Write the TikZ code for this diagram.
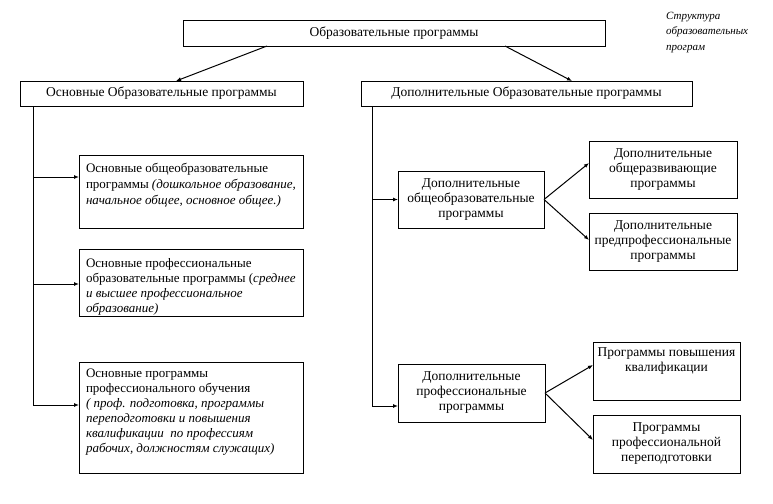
\documentclass[tikz,border=0pt]{standalone}
\usepackage{fontspec}
\setmainfont{Liberation Serif}
\usetikzlibrary{arrows.meta}

\begin{document}
\begin{tikzpicture}[x=1pt,y=-1pt,
  box/.style={draw=drawColor,line width=0.9pt,anchor=north west,inner sep=0pt,outer sep=0pt,
    align=center,font=\fontsize{13.5}{15}\selectfont},
  lbox/.style={box,align=left,inner xsep=7pt,font=\fontsize{13}{15}\selectfont},
  line/.style={draw=drawColor,line width=1pt},
  arr/.style={line,-{Latex[length=5pt,width=4pt]}}]
\definecolor{drawColor}{RGB}{0,0,0}
\path[use as bounding box,fill=white] (0,0) rectangle (773,503);

% top level
\node[box,minimum width=422,minimum height=26] (prog) at (183,20) {Образовательные программы};
\node[box,minimum width=283,minimum height=25] (osn) at (20,81) {Основные Образовательные программы};
\node[box,minimum width=331,minimum height=25] (dop) at (361,81) {Дополнительные Образовательные программы};

\draw[arr] ([xshift=84]prog.south west) -- ([xshift=156]osn.north west);
\draw[arr] ([xshift=322]prog.south west) -- ([xshift=211]dop.north west);

% basic programs
\node[lbox] (ob1) at (79,155)
  {\parbox[c][73pt][t]{210pt}{\raggedright\vspace*{8pt}%
   Основные общеобразовательные\\[1pt]
   программы \textit{(дошкольное образование,}\\[1pt]
   \textit{начальное общее, основное общее.)}}};
\node[lbox] (ob2) at (79,249)
  {\parbox[c][67pt][t]{210pt}{\raggedright\vspace*{9pt}%
   Основные профессиональные\\
   образовательные программы (\textit{среднее}\\
   \textit{и высшее профессиональное}\\
   \textit{образование)}}};
\node[lbox] (ob3) at (79,362)
  {\parbox[c][111pt][t]{210pt}{\raggedright\vspace*{7pt}%
   Основные программы\\
   профессионального обучения\\
   \textit{( проф. подготовка, программы}\\
   \textit{переподготовки и повышения}\\
   \textit{квалификации\ \ по профессиям}\\
   \textit{рабочих, должностям служащих)}}};

\coordinate (ltr) at ([xshift=13]osn.south west);
\coordinate (e1) at ([yshift=14.5]ob1.west);
\coordinate (e2) at ([yshift=-1.5]ob2.west);
\coordinate (e3) at ([yshift=12.5]ob3.west);
\draw[arr] (ltr) |- (e3);
\draw[arr] (ltr |- e1) -- (e1);
\draw[arr] (ltr |- e2) -- (e2);

% additional programs
\node[box,minimum width=146,minimum height=57] (dgen) at (398,171)
  {Дополнительные\\общеобразовательные\\программы};
\node[box,minimum width=147,minimum height=58] (dprof) at (398,364)
  {Дополнительные\\профессиональные\\программы};

\coordinate (rtr) at ([xshift=11]dop.south west);
\coordinate (f2) at ([yshift=-13]dprof.west);
\draw[arr] (rtr) |- (f2);
\draw[arr] (rtr |- dgen.west) -- (dgen.west);

\node[box,minimum width=148,minimum height=57] (ra) at (589,141)
  {Дополнительные\\общеразвивающие\\программы};
\node[box,minimum width=148,minimum height=57] (rb) at (589,213)
  {Дополнительные\\предпрофессиональные\\программы};
\node[box,inner xsep=0pt] (rc) at (593,342)
  {\parbox[c][58pt][t]{147pt}{\centering\vspace*{6pt}%
   Программы повышения\\квалификации}};
\node[box,minimum width=147,minimum height=58] (rd) at (593,415)
  {Программы\\профессиональной\\переподготовки};

\draw[arr] (dgen.east) -- ([yshift=6.5]ra.west);
\draw[arr] (dgen.east) -- ([yshift=1.5]rb.west);
\draw[arr] (dprof.east) -- ([yshift=6]rc.west);
\draw[arr] (dprof.east) -- ([yshift=4]rd.west);

% caption
\node[anchor=north west,inner sep=0pt,align=left,font=\fontsize{11}{15.5}\selectfont\itshape] (note) at (666,12)
  {Структура\\образовательных\\програм};
\end{tikzpicture}
\end{document}
